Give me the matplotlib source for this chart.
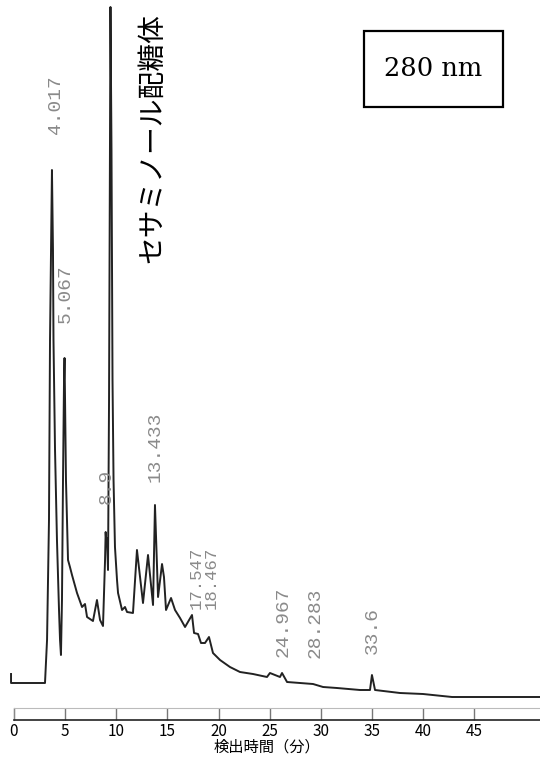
import matplotlib
matplotlib.use("Agg")
import matplotlib.pyplot as plt
from matplotlib.patches import Rectangle

plt.rcParams['font.family'] = ['Noto Sans CJK JP', 'DejaVu Sans']

# Chromatogram trace (retention time in min, detector signal in arbitrary units)
times = [-0.29, -0.29, 3.03, 3.23, 3.42, 3.52, 3.62, 3.71, 3.81, 3.86, 4.01, 4.20,
         4.40, 4.50, 4.59, 4.69, 4.79, 4.89, 4.94, 4.99, 5.08, 5.28, 5.47, 5.67,
         6.16, 6.65, 6.94, 7.14, 7.72, 8.11, 8.41, 8.70, 8.90, 8.96, 9.04, 9.09,
         9.19, 9.29, 9.38, 9.43, 9.53, 9.63, 9.73, 9.87, 10.07, 10.17, 10.56,
         10.85, 11.05, 11.63, 12.02, 12.61, 13.10, 13.59, 13.78, 14.08, 14.47, 14.66,
         14.86, 15.35, 15.74, 16.23, 16.72, 17.40, 17.60, 17.99, 18.28, 18.67, 19.06,
         19.45, 20.14, 21.11, 22.09, 23.36, 24.73, 25.02, 26.00, 26.20, 26.69, 29.23,
         30.21, 31.57, 33.82, 34.80, 34.99, 35.29, 37.73, 39.98, 42.82, 51.42]
signal = [9, 0, 0, 43, 163, 343, 433, 513, 433, 343, 233, 143,
          73, 43, 28, 83, 203, 303, 325, 283, 203, 123, 116, 108,
          90, 76, 79, 66, 62, 83, 63, 57, 123, 151, 138, 145,
          113, 283, 533, 676, 533, 303, 203, 136, 103, 90, 73,
          76, 71, 70, 133, 80, 128, 78, 178, 86, 119, 106,
          73, 85, 73, 65, 56, 68, 50, 49, 40, 40, 46,
          30, 23, 16, 11, 9, 6, 10, 6, 10, 1, -1,
          -4, -5, -7, -7, 8, -7, -10, -11, -14, -14]

# Peak annotations
peak_labels = ["4.017", "5.067", "8.9", "13.433", "17.547", "18.467", "24.967", "28.283", "33.6"]
label_t = [4.01, 4.99, 9.05, 13.78, 17.85, 19.3, 26.3, 29.42, 35.0]
label_y = [578, 389, 197, 236, 105, 105, 61, 60, 53]
label_size = [14, 14, 14, 14, 12.5, 12.5, 14, 14, 14]

tick_values = [0, 5, 10, 15, 20, 25, 30, 35, 40, 45]
xlabel = "検出時間（分）"
compound = "セサミノール配糖体"
wavelength = "280 nm"

fig = plt.figure(figsize=(5.4, 7.61), dpi=100)
ax = fig.add_axes([0, 0, 1, 1])
ax.plot(times, signal, color='#222222', lw=1.4)
ax.set_xlim(-14 / 10.23, 526 / 10.23)
ax.set_ylim(-78, 683)
ax.axis('off')

for lab, t, y, fs in zip(peak_labels, label_t, label_y, label_size):
    ax.text(t, y, lab, rotation=90, ha='center', va='center', fontsize=fs,
            family=['Liberation Mono', 'DejaVu Sans Mono'], color='#8a8a8a')

ax.text(13.49, 545, compound, rotation=90, ha='center', va='center', fontsize=20,
        color='black')

# wavelength box
fig.add_artist(Rectangle((364 / 540, 1 - 107 / 761), 139 / 540, 76 / 761,
                         transform=fig.transFigure, fill=False, lw=1.6, ec='black'))
fig.text(433 / 540, 1 - 68 / 761, wavelength, ha='center', va='center',
         fontsize=18.5, family=['DejaVu Serif'], color='black')

# time axis
tax = fig.add_axes([14 / 540, 1 - 720 / 761, 1 - 14 / 540, 12 / 761])
tax.set_xlim(0, 526 / 10.23)
tax.set_ylim(0, 1)
tax.set_yticks([])
tax.set_xticks(tick_values)
tax.set_xticklabels([str(v) for v in tick_values], fontsize=11)
tax.tick_params(axis='x', direction='in', length=8.6, width=1, color='#777777', pad=2)
tax.spines['right'].set_visible(False)
tax.spines['top'].set_color('#bbbbbb')
tax.spines['left'].set_color('#888888')
tax.spines['bottom'].set_color('#222222')
tax.spines['bottom'].set_linewidth(1.2)
tax.patch.set_alpha(0)
fig.text(267 / 540, 1 - 747 / 761, xlabel, ha='center', va='center', fontsize=11)

fig.savefig('out.png', dpi=100)
